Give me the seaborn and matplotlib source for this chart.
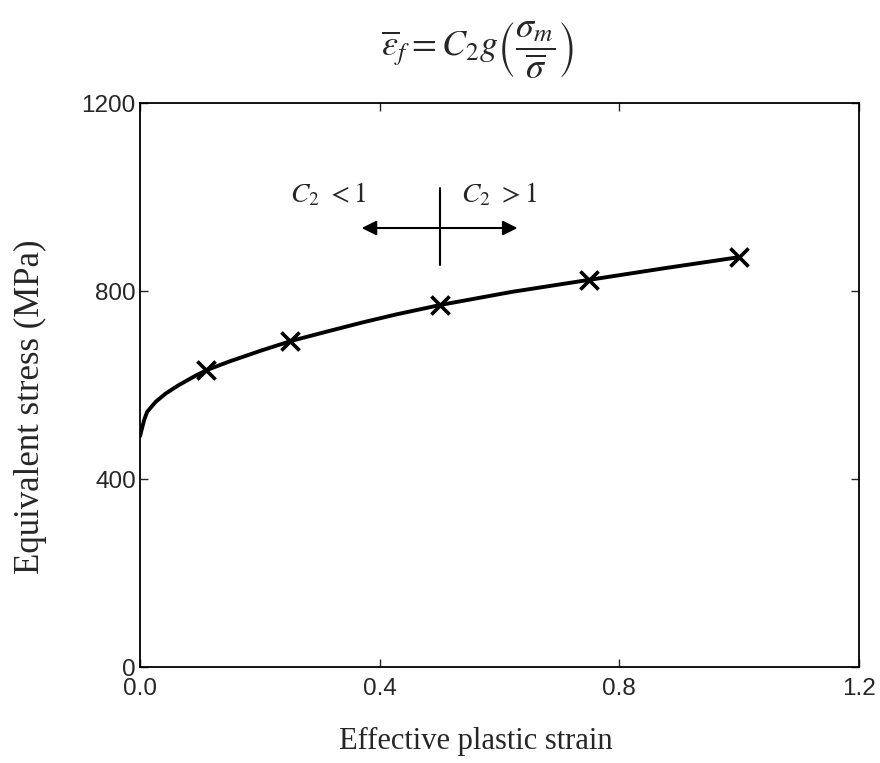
import numpy as np
import pandas as pd
import seaborn as sns
import matplotlib.pyplot as plt

# curve
strain = [0.0, 0.007, 0.012, 0.026, 0.043, 0.065, 0.093, 0.112, 0.149, 0.204,
          0.253, 0.316, 0.371, 0.427, 0.482, 0.5, 0.62, 0.746, 0.878, 1.0]
stress = [491, 526, 543, 564, 582, 600, 620, 632, 650, 674,
          694, 715, 733, 750, 765, 770, 798, 823, 849, 872]

# cross markers
pt_strain = [0.11, 0.25, 0.5, 0.75, 1.0]
pt_stress = [632, 694, 770, 823, 872]

xticks = [0.0, 0.4, 0.8, 1.2]
yticks = [0, 400, 800, 1200]

curve = pd.DataFrame({'strain': strain, 'stress': stress})
pts = pd.DataFrame({'strain': pt_strain, 'stress': pt_stress})

sns.set_theme(style='ticks')
plt.rcParams['font.family'] = ['Liberation Sans', 'DejaVu Sans']
plt.rcParams['mathtext.fontset'] = 'stix'

fig = plt.figure(figsize=(8.8, 7.63), dpi=100)
ax = fig.add_axes([140/880, 1 - 667/763, 719/880, 564/763])

sns.lineplot(data=curve, x='strain', y='stress', color='black', lw=2.8, ax=ax)
sns.scatterplot(data=pts, x='strain', y='stress', marker='x', s=170,
                color='black', linewidth=2.6, ax=ax, zorder=3)

# C2 annotation
ax.plot([0.5, 0.5], [855, 1019], color='black', lw=1.5)
arrow = dict(arrowstyle='-|>', color='black', lw=1.5, mutation_scale=22,
             shrinkA=0, shrinkB=0)
ax.annotate('', xy=(0.37, 934), xytext=(0.5, 934), arrowprops=arrow)
ax.annotate('', xy=(0.63, 934), xytext=(0.5, 934), arrowprops=arrow)
ax.text(0.25, 988, r'$C_2\ <1$', fontsize=20, ha='left', va='baseline')
ax.text(0.535, 988, r'$C_2\ >1$', fontsize=20, ha='left', va='baseline')

ax.set_xlim(0, 1.2)
ax.set_ylim(0, 1200)
ax.set_xticks(xticks)
ax.set_xticklabels(['0.0', '0.4', '0.8', '1.2'])
ax.set_yticks(yticks)
ax.tick_params(direction='in', length=6, width=1.0, labelsize=17.5,
               top=True, right=True)
ax.tick_params(axis='x', pad=8)
ax.tick_params(axis='y', pad=3)
for s in ax.spines.values():
    s.set_linewidth(1.3)
    s.set_color('black')

ax.set_xlabel('Effective plastic strain', family='Liberation Serif', fontsize=22)
ax.xaxis.set_label_coords(0.467, -0.107)
ax.set_ylabel('Equivalent stress (MPa)', family='Liberation Serif', fontsize=25)
ax.yaxis.set_label_coords(-0.129, 0.461)

fig.text(478/880, 1 - 50/763,
         r'$\overline{\varepsilon}_f = C_2 g\left(\dfrac{\sigma_m}{\overline{\sigma}}\right)$',
         fontsize=26, ha='center', va='center')

fig.savefig('out.png', dpi=100)
